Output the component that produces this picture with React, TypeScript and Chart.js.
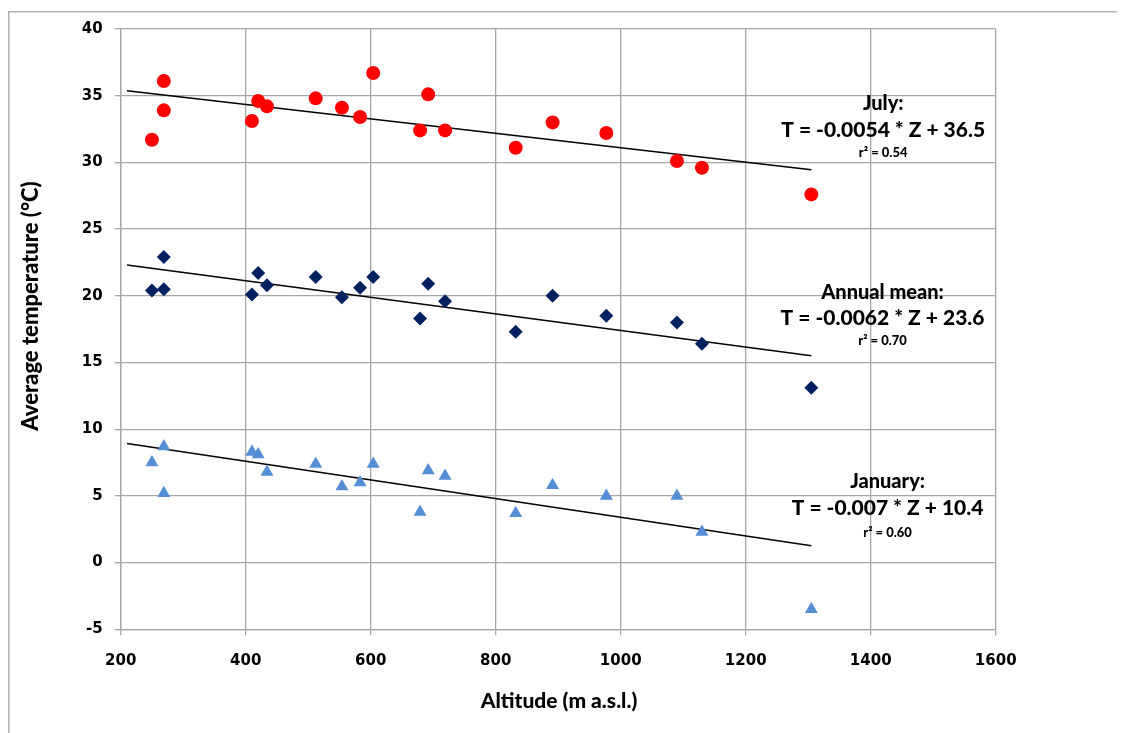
import React, { useEffect, useRef } from "react";
import { Chart, registerables } from "chart.js";

Chart.register(...registerables);

// Station altitudes (m a.s.l.)
const altitudes = [250, 269, 269, 410, 420, 434, 512, 554, 583, 604, 679, 692, 719, 832, 891, 977, 1090, 1130, 1305];
// Average temperatures (°C)
const julyTemps = [31.7, 36.1, 33.9, 33.1, 34.6, 34.2, 34.8, 34.1, 33.4, 36.7, 32.4, 35.1, 32.4, 31.1, 33.0, 32.2, 30.1, 29.6, 27.6];
const annualTemps = [20.4, 22.9, 20.5, 20.1, 21.7, 20.8, 21.4, 19.9, 20.6, 21.4, 18.3, 20.9, 19.6, 17.3, 20.0, 18.5, 18.0, 16.4, 13.1];
const januaryTemps = [7.5, 8.7, 5.2, 8.3, 8.1, 6.8, 7.4, 5.7, 6.0, 7.4, 3.8, 6.9, 6.5, 3.7, 5.8, 5.0, 5.0, 2.3, -3.5];

// Trend line end points
const trendX = [210, 1305];
const julyTrend = [35.37, 29.45];
const annualTrend = [22.30, 15.51];
const januaryTrend = [8.93, 1.27];

// Axis ticks
const xTicks = [200, 400, 600, 800, 1000, 1200, 1400, 1600];
const yTicks = [-5, 0, 5, 10, 15, 20, 25, 30, 35, 40];

// Annotations
const annotationX = [1420, 1419, 1427];
const annotationTitles = ["July:", "Annual mean:", "January:"];
const annotationEquations = ["T = -0.0054 * Z + 36.5", "T = -0.0062 * Z + 23.6", "T = -0.007 * Z + 10.4"];
const annotationR2 = ["r\u00B2 = 0.54", "r\u00B2 = 0.70", "r\u00B2 = 0.60"];
const annotationTitleY = [34.43, 20.25, 6.07];
const annotationEqY = [32.41, 18.31, 4.06];
const annotationR2Y = [30.69, 16.6, 2.27];

const toPoints = (xs: number[], ys: number[]) => xs.map((x, i) => ({ x, y: ys[i] }));

export default function App() {
  const canvasRef = useRef<HTMLCanvasElement | null>(null);

  useEffect(() => {
    const canvas = canvasRef.current;
    if (!canvas) return;
    const W = 1117;
    const H = 725;
    const plotLeft = 112.7;
    const plotRight = 987.7;
    const plotTop = 19.3;
    const plotBottom = 621.3;

    const textPlugin = {
      id: "texts",
      afterDatasetsDraw(chart: any) {
        const ctx = chart.ctx;
        const xs = chart.scales.x;
        const ys = chart.scales.y;
        ctx.save();
        ctx.fillStyle = "#000";
        ctx.textAlign = "center";
        ctx.textBaseline = "middle";
        for (let i = 0; i < annotationTitles.length; i++) {
          const px = xs.getPixelForValue(annotationX[i]);
          ctx.font = "900 20px Lato";
          ctx.fillText(annotationTitles[i], px, ys.getPixelForValue(annotationTitleY[i]));
          ctx.font = "900 21px Lato";
          ctx.fillText(annotationEquations[i], px, ys.getPixelForValue(annotationEqY[i]));
          ctx.font = "900 13px Lato";
          ctx.fillText(annotationR2[i], px, ys.getPixelForValue(annotationR2Y[i]));
        }
        // axis titles
        ctx.font = "900 21px Lato";
        ctx.fillText("Altitude (m a.s.l.)", 551, 693);
        ctx.save();
        ctx.translate(23, 298);
        ctx.rotate(-Math.PI / 2);
        ctx.font = "900 22px Lato";
        ctx.fillText("Average temperature (\u00B0C)", 0, 0);
        ctx.restore();
        // outer frame
        ctx.strokeStyle = "#b4b4b4";
        ctx.lineWidth = 1.5;
        ctx.beginPath();
        ctx.moveTo(0.75, H);
        ctx.lineTo(0.75, 3.75);
        ctx.lineTo(W, 3.75);
        ctx.stroke();
        ctx.restore();
      },
    };

    const tickFont = { family: "DejaVu Sans", weight: "bold", size: 15 };

    const chart = new Chart(canvas, {
      type: "scatter",
      data: {
        datasets: [
          {
            label: "July",
            data: toPoints(altitudes, julyTemps),
            backgroundColor: "#ff0000",
            borderColor: "#ff0000",
            pointStyle: "circle",
            pointRadius: 7,
            borderWidth: 0,
          },
          {
            label: "Annual mean",
            data: toPoints(altitudes, annualTemps),
            backgroundColor: "#002060",
            borderColor: "#002060",
            pointStyle: "rectRot",
            pointRadius: 7,
            borderWidth: 0,
          },
          {
            label: "January",
            data: toPoints(altitudes, januaryTemps),
            backgroundColor: "#558ed5",
            borderColor: "#558ed5",
            pointStyle: "triangle",
            pointRadius: 7.5,
            borderWidth: 0,
          },
          {
            type: "line",
            label: "July trend",
            data: toPoints(trendX, julyTrend),
            borderColor: "#000",
            borderWidth: 1.5,
            pointRadius: 0,
            fill: false,
          },
          {
            type: "line",
            label: "Annual trend",
            data: toPoints(trendX, annualTrend),
            borderColor: "#000",
            borderWidth: 1.5,
            pointRadius: 0,
            fill: false,
          },
          {
            type: "line",
            label: "January trend",
            data: toPoints(trendX, januaryTrend),
            borderColor: "#000",
            borderWidth: 1.5,
            pointRadius: 0,
            fill: false,
          },
        ] as any,
      },
      options: {
        animation: false,
        responsive: false,
        events: [],
        layout: { padding: { left: 0, top: plotTop, right: W - plotRight, bottom: 0 } },
        plugins: { legend: { display: false }, tooltip: { enabled: false } },
        scales: {
          x: {
            type: "linear",
            min: 200,
            max: 1600,
            afterBuildTicks: (s: any) => {
              s.ticks = xTicks.map((v) => ({ value: v }));
            },
            afterFit: (s: any) => {
              s.height = H - plotBottom;
            },
            grid: { color: "#a6a6a6", lineWidth: 1.3, tickLength: 6, drawTicks: true },
            border: { color: "#a6a6a6", width: 1.3 },
            ticks: {
              color: "#000",
              font: tickFont,
              padding: 17,
              maxRotation: 0,
              autoSkip: false,
              callback: (v: any) => String(v),
            },
          },
          y: {
            type: "linear",
            min: -5,
            max: 40,
            afterBuildTicks: (s: any) => {
              s.ticks = yTicks.map((v) => ({ value: v }));
            },
            afterFit: (s: any) => {
              s.width = plotLeft;
            },
            grid: { color: "#a6a6a6", lineWidth: 1.3, tickLength: 6 },
            border: { color: "#a6a6a6", width: 1.3 },
            ticks: {
              color: "#000",
              font: tickFont,
              padding: 12,
              autoSkip: false,
              callback: (v: any) => String(v),
            },
          },
        },
      } as any,
      plugins: [textPlugin],
    });

    return () => chart.destroy();
  }, []);

  return (
    <div style={{ width: 1117, height: 725, overflow: "hidden" }}>
      <canvas ref={canvasRef} width={1117} height={725} style={{ display: "block" }} />
    </div>
  );
}
